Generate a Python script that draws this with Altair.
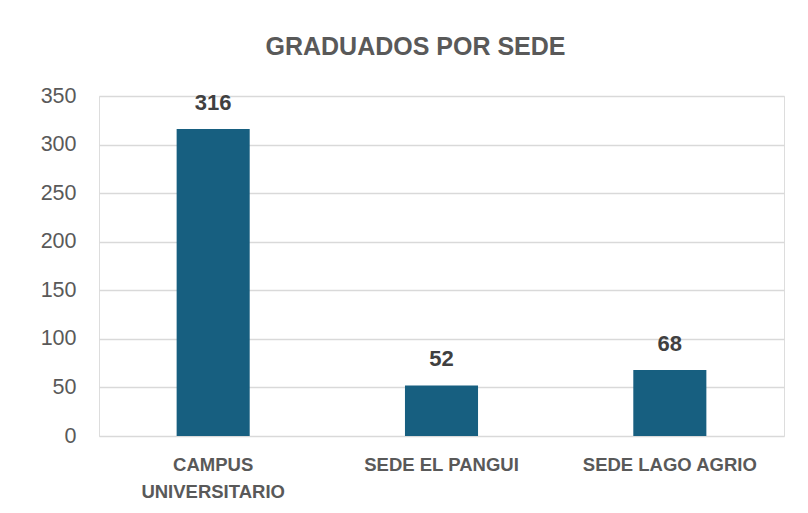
import altair as alt
import pandas as pd

sedes = ["CAMPUS UNIVERSITARIO", "SEDE EL PANGUI", "SEDE LAGO AGRIO"]
graduados = [316, 52, 68]
y_ticks = [0, 50, 100, 150, 200, 250, 300, 350]

df = pd.DataFrame({"sede": sedes, "graduados": graduados})

FONT = "Liberation Sans"
GRAY = "#595959"

base = alt.Chart(df).encode(
    x=alt.X(
        "sede:N",
        sort=sedes,
        title=None,
        scale=alt.Scale(paddingInner=0.68, paddingOuter=0.34),
        axis=alt.Axis(
            labelAngle=0,
            labelFont=FONT,
            labelFontSize=18.5,
            labelFontWeight="bold",
            labelColor=GRAY,
            labelPadding=19,
            labelLineHeight=27,
            labelExpr="datum.value == 'CAMPUS UNIVERSITARIO' ? ['CAMPUS', 'UNIVERSITARIO'] : datum.value",
            domain=False,
            ticks=False,
            grid=False,
        ),
    ),
    y=alt.Y(
        "graduados:Q",
        title=None,
        scale=alt.Scale(domain=[0, 350], nice=False),
        axis=alt.Axis(
            values=y_ticks,
            labelFont=FONT,
            labelFontSize=21.5,
            labelColor=GRAY,
            labelPadding=23,
            domain=False,
            ticks=False,
            gridColor="#d9d9d9",
            gridWidth=1.5,
        ),
    ),
)

bars = base.mark_bar(color="#175f80")
labels = base.mark_text(
    dy=-14,
    baseline="bottom",
    font=FONT,
    fontSize=22,
    fontWeight="bold",
    color="#404040",
).encode(text="graduados:Q")

chart = (
    (bars + labels)
    .properties(
        width=685,
        height=340,
        padding={"left": 91, "top": 88, "right": 10, "bottom": 75},
        autosize=alt.AutoSizeParams(type="none"),
        title=alt.TitleParams(
            "GRADUADOS POR SEDE",
            font=FONT,
            fontSize=25,
            fontWeight="bold",
            color=GRAY,
            anchor="middle",
            dx=-26,
            offset=25,
        ),
    )
    .configure_view(stroke=None)
    .configure(background="white")
)

chart.save("out.html", embed_options={"renderer": "svg", "actions": False})
